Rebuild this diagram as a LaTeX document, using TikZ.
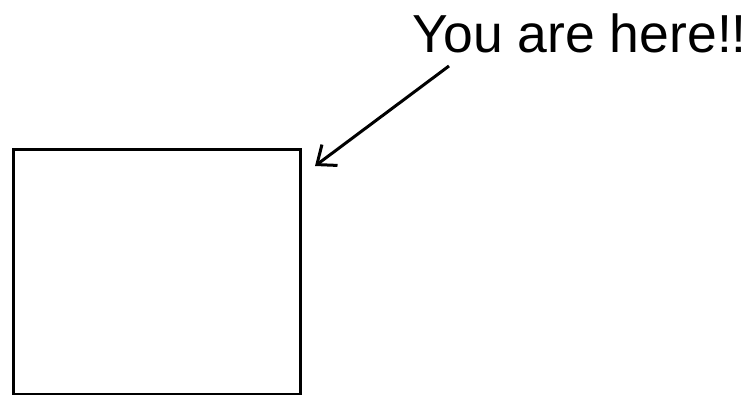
\documentclass[tikz,border=0pt]{standalone}
\usepackage{fontspec}
\setmainfont{Liberation Sans}
\usetikzlibrary{arrows.meta}

\begin{document}
\begin{tikzpicture}[x=1pt,y=-1pt]
\useasboundingbox (0,0) rectangle (747,395);

\tikzset{
  frame/.style={draw, line width=3pt, minimum width=287pt, minimum height=244pt, inner sep=0pt},
  pointer/.style={line width=3pt, -{Straight Barb[length=16pt, width=26pt, line width=3pt]}},
}

\node[frame, anchor=north west] (box) at (11.5,148.5) {};
\node[anchor=base west, inner sep=0pt, font=\fontsize{53.5}{60}\selectfont] (here) at (412.5,53) {You are here!!};

\coordinate (tail) at (449,66);
\coordinate (tip) at (315,166);

\draw[pointer] (tail) -- (tip);
\end{tikzpicture}
\end{document}
